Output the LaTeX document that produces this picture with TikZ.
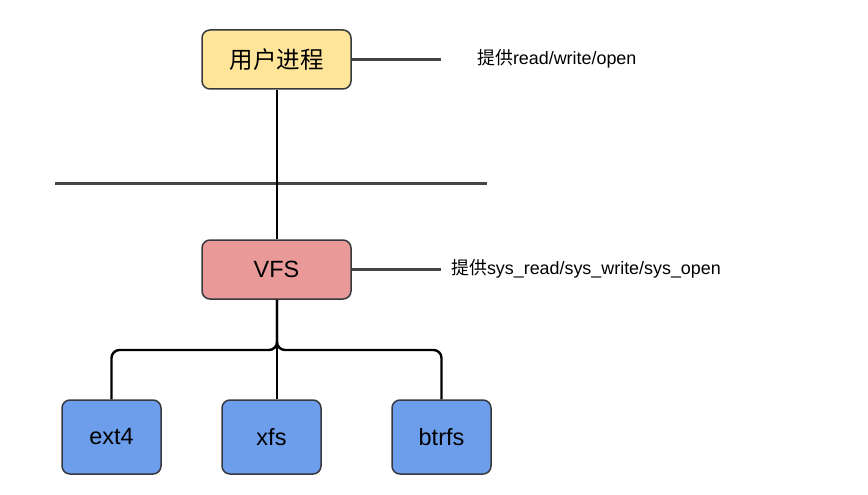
\documentclass[tikz,border=0pt]{standalone}
\usepackage{fontspec}
\setmainfont{Liberation Sans}
\newfontfamily\cjk{Noto Sans CJK SC}
\begin{document}
\begin{tikzpicture}[x=1pt,y=-1pt,
  box/.style={draw=boxline,line width=1.5pt,rounded corners=8pt,minimum width=149pt,minimum height=59pt,inner sep=0pt,font=\fontsize{23.5}{27}\selectfont},
  leaf/.style={box,minimum width=99pt,minimum height=74pt},
  conn/.style={draw=black,line width=2.4pt,rounded corners=8pt},
  guide/.style={draw=guidegray,line width=3pt},
  lbl/.style={anchor=west,inner sep=0pt,font=\fontsize{17.9}{21}\selectfont}]
\definecolor{boxline}{HTML}{36393D}
\definecolor{guidegray}{HTML}{444444}
\definecolor{yel}{HTML}{FFE599}
\definecolor{red}{HTML}{EA9999}
\definecolor{blu}{HTML}{6D9EEB}
\useasboundingbox (0,0) rectangle (868,495);
\node[box,fill=yel] (up) at (276.5,59.5) {\cjk 用户进程};
\node[box,fill=red] (vfs) at (276.5,269.5) {VFS};
\node[leaf,fill=blu] (ext4) at (111.5,437) {ext4};
\node[leaf,fill=blu] (xfs) at (271.5,437) {xfs};
\node[leaf,fill=blu] (btrfs) at (441.5,437) {btrfs};
\coordinate (l1) at (441,60);
\coordinate (l2) at (441,269);
\coordinate (s1) at (55,183);
\coordinate (s2) at (487,183);
\coordinate (bus) at (277,350);
\node[lbl] (t1) at (477,59) {{\cjk 提供}read/write/open};
\node[lbl] (t2) at (451,269) {{\cjk 提供}sys\_read/sys\_write/sys\_open};
\draw[guide] (up.east) -- (l1 |- up.east);
\draw[guide] (vfs.east) -- (l2 |- vfs.east);
\draw[guide] (s1) -- (s2);
\draw[conn] (up.south -| bus) -- (vfs.north -| bus);
\draw[conn] (vfs.south -| bus) -- (bus) -| (ext4.north);
\draw[conn] (vfs.south -| bus) -- (bus) -| (btrfs.north);
\draw[conn] (vfs.south -| bus) -- (bus |- xfs.north);
\end{tikzpicture}
\end{document}
